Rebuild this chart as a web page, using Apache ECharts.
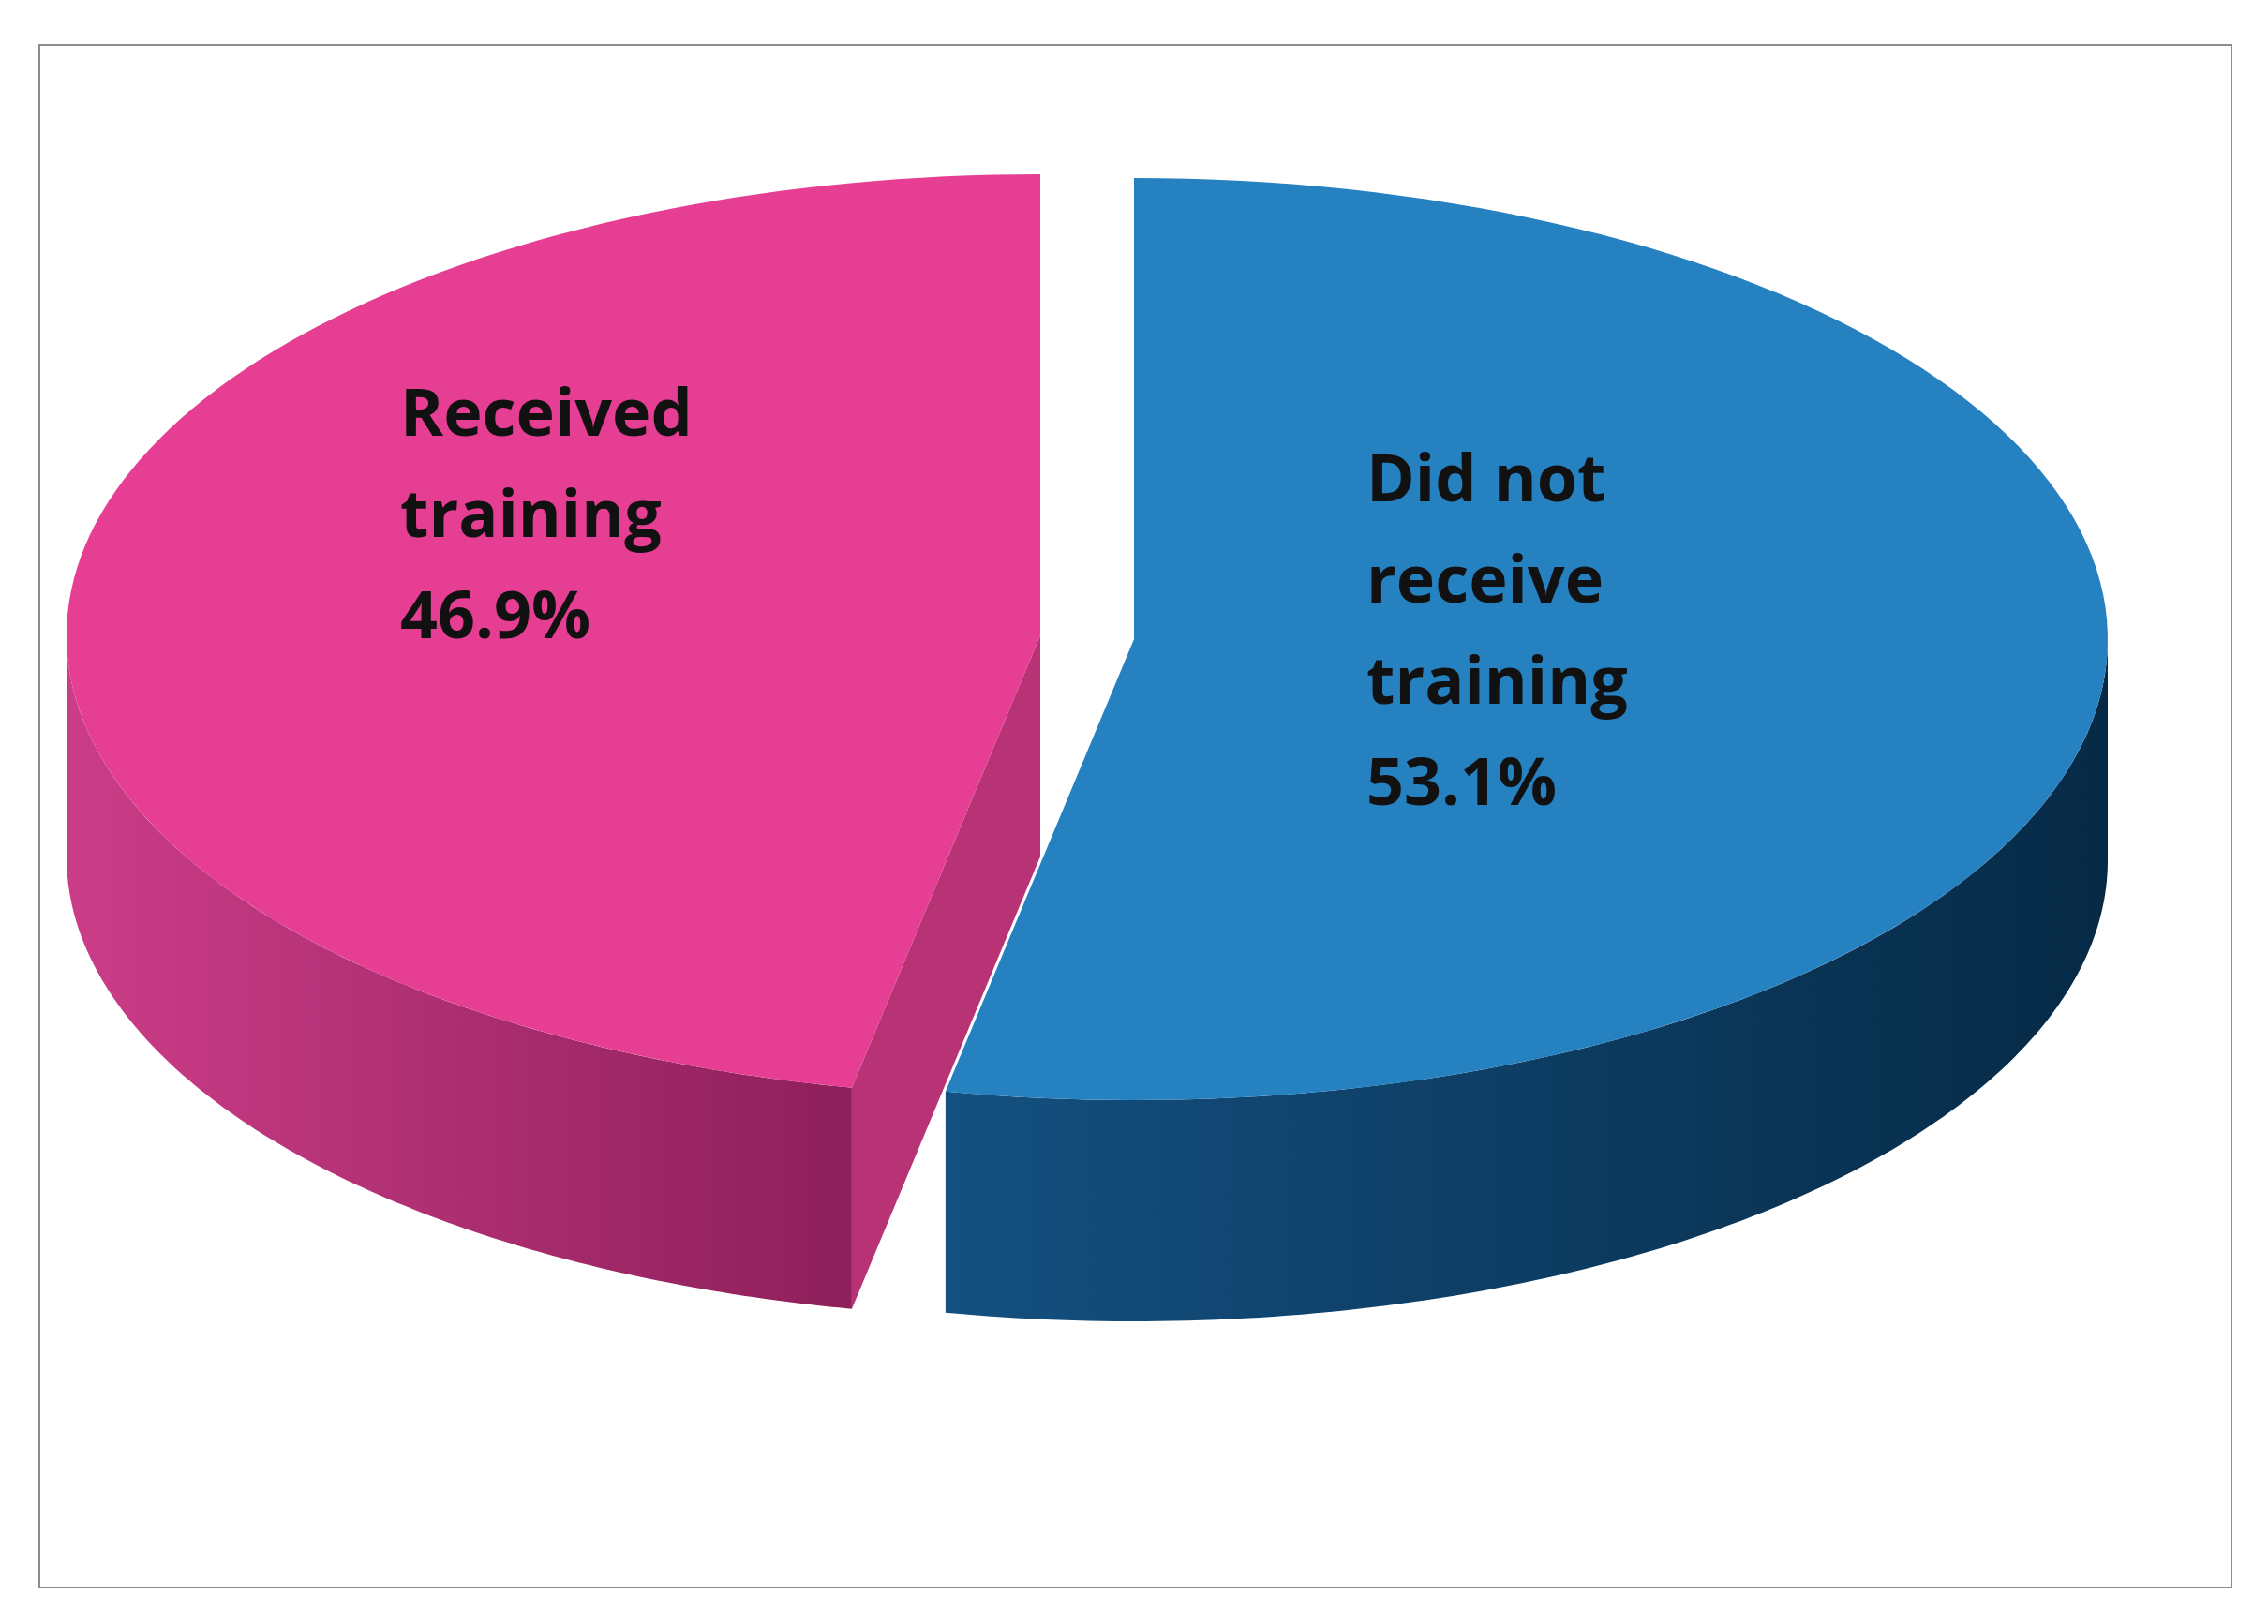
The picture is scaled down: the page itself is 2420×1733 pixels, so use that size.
<!DOCTYPE html>
<html>
<head>
<meta charset="utf-8">
<script src="https://cdn.jsdelivr.net/npm/echarts@6/dist/echarts.min.js"></script>
<style>
  html, body { margin: 0; padding: 0; background: #fff; }
  #main { width: 2420px; height: 1733px; }
</style>
</head>
<body>
<div id="main"></div>
<script>
// data
var categories = ['Did not receive training', 'Received training'];
var labels = ['Did not\nreceive\ntraining\n53.1%', 'Received\ntraining\n46.9%'];
var values = [53.1, 46.9];
var topColors = ['#2681c1', '#e63e93'];
var wallColors = [['#145080', '#062a46'], ['#cc3d88', '#8d1f5a']];
var faceColors = ['#0e3d63', '#b83276'];
var explode = [[0, 0], [-100, -4]];

var CX = 1210, CY = 682, RX = 1039, RY = 492, DEPTH = 236;
var total = values.reduce(function (a, b) { return a + b; }, 0);

function pt(cx, cy, a, dy) {
  return [cx + RX * Math.cos(a), cy + RY * Math.sin(a) + (dy || 0)];
}
function arc(cx, cy, a1, a2, dy) {
  var pts = [], n = 120;
  for (var i = 0; i <= n; i++) pts.push(pt(cx, cy, a1 + (a2 - a1) * i / n, dy));
  return pts;
}

var chart = echarts.init(document.getElementById('main'));

chart.setOption({
  backgroundColor: '#fff',
  graphic: [
    { type: 'rect', shape: { x: 42, y: 48, width: 2339, height: 1646 },
      style: { fill: 'none', stroke: '#8c8c8c', lineWidth: 2 }, z: -10 },
    { type: 'text', left: 597 - 170, top: 551 - 160, style: {
      text: labels[1], fill: '#111', font: 'bold 70px "Open Sans"', align: 'center',
      lineHeight: 108, x: 170 }, z: 50 },
    { type: 'text', left: 1628 - 170, top: 675 - 214, style: {
      text: labels[0], fill: '#111', font: 'bold 70px "Open Sans"', align: 'center',
      lineHeight: 108, x: 170 }, z: 50 }
  ],
  series: [{
    type: 'custom',
    coordinateSystem: 'none',
    data: values.map(function (v, i) { return [i, v]; }),
    renderItem: function (params, api) {
      var idx = api.value(0);
      var start = -Math.PI / 2;
      for (var k = 0; k < idx; k++) start += values[k] / total * Math.PI * 2;
      var end = start + api.value(1) / total * Math.PI * 2;
      var cx = CX + explode[idx][0], cy = CY + explode[idx][1];
      var children = [];

      // outer wall: visible portion where sin > 0 (front half)
      var segs = [];
      for (var t = -2; t <= 2; t++) {
        var lo = Math.max(start, t * 2 * Math.PI), hi = Math.min(end, t * 2 * Math.PI + Math.PI);
        if (hi > lo) segs.push([lo, hi]);
      }
      segs.forEach(function (s) {
        var top = arc(cx, cy, s[0], s[1], 0);
        var bot = arc(cx, cy, s[0], s[1], DEPTH).reverse();
        children.push({
          type: 'polygon', shape: { points: top.concat(bot) },
          style: { fill: new echarts.graphic.LinearGradient(0, 0, 1, 0, [
            { offset: 0, color: wallColors[idx][0] }, { offset: 1, color: wallColors[idx][1] }], false) }
        });
      });

      // cut face at the start of the pink slice (visible after explode)
      if (idx === 1) {
        var p = pt(cx, cy, start, 0);
        children.push({
          type: 'polygon',
          shape: { points: [[cx, cy], p, [p[0], p[1] + DEPTH], [cx, cy + DEPTH]] },
          style: { fill: faceColors[idx] }
        });
      }

      // top surface
      children.push({
        type: 'polygon',
        shape: { points: [[cx, cy]].concat(arc(cx, cy, start, end, 0)) },
        style: { fill: topColors[idx] }
      });
      return { type: 'group', children: children };
    }
  }]
});
</script>
</body>
</html>
